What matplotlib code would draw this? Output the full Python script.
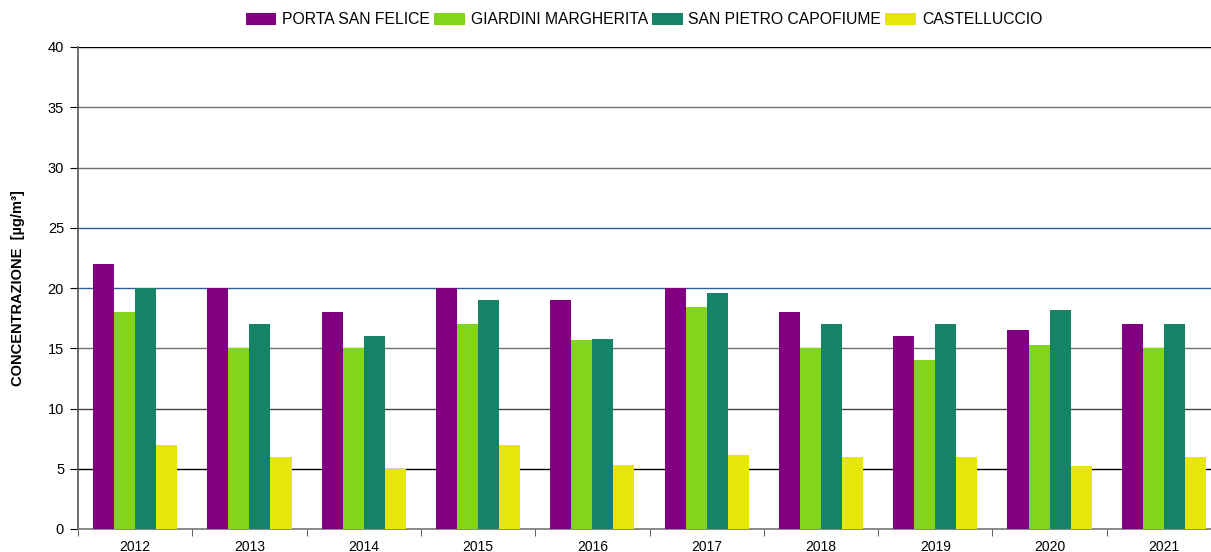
import matplotlib
matplotlib.use("Agg")
import matplotlib.pyplot as plt
import numpy as np

years = ["2012", "2013", "2014", "2015", "2016", "2017", "2018", "2019", "2020", "2021"]
series_names = ["PORTA SAN FELICE", "GIARDINI MARGHERITA", "SAN PIETRO CAPOFIUME", "CASTELLUCCIO"]
porta_san_felice = [22, 20, 18, 20, 19, 20, 18, 16, 16.5, 17]
giardini_margherita = [18, 15, 15, 17, 15.7, 18.4, 15, 14, 15.3, 15]
san_pietro_capofiume = [20, 17, 16, 19, 15.8, 19.6, 17, 17, 18.2, 17]
castelluccio = [7, 6, 5, 7, 5.3, 6.1, 6, 6, 5.2, 6]
colors = ["#800080", "#83D41C", "#158466", "#E6E60A"]

plt.rcParams['font.family'] = ['Liberation Sans', 'DejaVu Sans']

W, H = 1211, 552
fig = plt.figure(figsize=(W / 100, H / 100), dpi=100)
ax = fig.add_axes([78 / W, (H - 529) / H, (1221 - 78) / W, (529 - 47) / H])

x = np.arange(len(years))
bw = 0.184
data = [porta_san_felice, giardini_margherita, san_pietro_capofiume, castelluccio]
for i, (vals, name, c) in enumerate(zip(data, series_names, colors)):
    ax.bar(x + (i - 1.5) * bw, vals, width=bw, color=c, label=name, zorder=3, linewidth=0)

ax.set_xlim(-0.5, len(years) - 0.5)
ax.set_ylim(0, 40)
ax.set_yticks(range(0, 41, 5))
grid_colors = {5: "#000000", 10: "#444444", 15: "#707070", 20: "#2E5E9E", 25: "#2E5E9E",
               30: "#707070", 35: "#707070", 40: "#000000"}
for yv, gc in grid_colors.items():
    ax.axhline(yv, color=gc, linewidth=1.0, zorder=1)

ax.set_xticks(x)
ax.set_xticklabels(years)
ax.set_xticks(np.arange(-0.5, len(years), 1), minor=True)
ax.tick_params(axis='x', which='major', length=0, labelsize=10, pad=8)
ax.tick_params(axis='x', which='minor', length=5, color="#444444", direction='out')
ax.tick_params(axis='y', length=6, labelsize=10.5, color="#000000", pad=4)

for s in ["top", "right"]:
    ax.spines[s].set_visible(False)
ax.spines["left"].set_color("#555555")
ax.spines["bottom"].set_color("#777777")
ax.spines["left"].set_linewidth(1.2)
ax.spines["bottom"].set_linewidth(1.2)

fig.text(18 / W, (H - 288) / H, "CONCENTRAZIONE  [µg/m³]", rotation=90, ha='center', va='center',
         fontsize=10.5, fontweight='bold')

fig.legend(loc='center', bbox_to_anchor=(644 / W, (H - 20) / H), ncol=4, frameon=False,
           fontsize=11.3, handlelength=1.95, handleheight=0.85, handletextpad=0.38, columnspacing=0.25,
           borderaxespad=0)

fig.savefig("out.png", dpi=100)
